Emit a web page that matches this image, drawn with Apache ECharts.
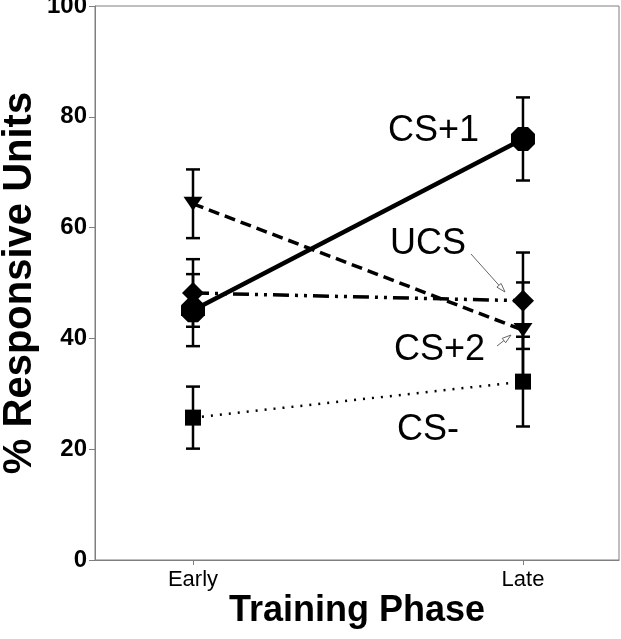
<!DOCTYPE html>
<html><head><meta charset="utf-8">
<script src="https://cdn.jsdelivr.net/npm/echarts@6/dist/echarts.min.js"></script>
<style>html,body{margin:0;padding:0;background:#fff}#c{width:621px;height:639px}</style>
</head><body><div id="c"></div>
<script>
// ---- data ----
const phases = ['Early', 'Late'];
const phaseX = [1, 2];
const yTicks = [0, 20, 40, 60, 80, 100];
const cs1 = [45.1, 76.0];
const cs1Err = [6.5, 7.5];
const ucs = [48.2, 46.8];
const ucsErr = [6.1, 8.7];
const cs2 = [64.3, 41.5];
const cs2Err = [6.2, 8.6];
const csMinus = [25.7, 32.2];
const csMinusErr = [5.6, 8.1];
const seriesNames = ['CS+1', 'UCS', 'CS+2', 'CS-'];

const FONT = '"Liberation Sans", Arial, Helvetica, sans-serif';
const chart = echarts.init(document.getElementById('c'), null, {renderer: 'canvas'});

function pts(vals) { return phaseX.map((x, i) => [x, vals[i]]); }
function errData(vals, errs) { return phaseX.map((x, i) => [x, vals[i] - errs[i], vals[i] + errs[i]]); }

function errSeries(vals, errs) {
  return {
    type: 'custom', silent: true, z: 3,
    data: errData(vals, errs),
    encode: {x: 0, y: [1, 2]},
    renderItem: function (params, api) {
      const lo = api.coord([api.value(0), api.value(1)]);
      const hi = api.coord([api.value(0), api.value(2)]);
      const hw = 7;
      const st = {stroke: '#000', lineWidth: 2.5};
      return {type: 'group', children: [
        {type: 'line', shape: {x1: lo[0], y1: lo[1], x2: hi[0], y2: hi[1]}, style: st},
        {type: 'line', shape: {x1: lo[0] - hw, y1: lo[1], x2: lo[0] + hw, y2: lo[1]}, style: st},
        {type: 'line', shape: {x1: hi[0] - hw, y1: hi[1], x2: hi[0] + hw, y2: hi[1]}, style: st}
      ]};
    }
  };
}

function lineSeries(name, vals, lineType, width, symbol, size) {
  return {
    name: name, type: 'line', z: 4, data: pts(vals),
    symbol: symbol, symbolSize: size, showSymbol: true,
    itemStyle: {color: '#000', borderWidth: 0},
    lineStyle: {color: '#000', width: width, type: lineType},
    emphasis: {disabled: true}, silent: true
  };
}

function arrow(x1, y1, x2, y2) {
  const dx = x2 - x1, dy = y2 - y1, L = Math.hypot(dx, dy);
  const ux = dx / L, uy = dy / L, px = -uy, py = ux;
  const hl = 9, hw = 2.8;
  const bx = x2 - ux * hl, by = y2 - uy * hl;
  return [
    {type: 'line', shape: {x1: x1, y1: y1, x2: bx, y2: by}, style: {stroke: '#666', lineWidth: 1}},
    {type: 'polygon', shape: {points: [[x2, y2], [bx + px * hw, by + py * hw], [bx - px * hw, by - py * hw]]},
     style: {fill: '#fff', stroke: '#666', lineWidth: 1}}
  ];
}

const option = {
  animation: false,
  backgroundColor: '#fff',
  grid: {left: 95, right: 2, top: 6, bottom: 79, show: true, borderColor: '#7f7f7f', borderWidth: 1,
         containLabel: false, outerBoundsMode: 'none'},
  xAxis: {
    type: 'value', min: 0.703, max: 2.291,
    name: 'Training Phase', nameLocation: 'middle', nameGap: 33, nameMoveOverlap: false,
    nameTextStyle: {fontFamily: FONT, fontSize: 36, fontWeight: 'bold', color: '#000'},
    axisLine: {show: true, onZero: false, lineStyle: {color: '#7f7f7f', width: 1}},
    axisTick: {show: true, customValues: phaseX, length: 5, lineStyle: {color: '#7f7f7f'}},
    axisLabel: {show: true, customValues: phaseX, margin: 9,
      fontFamily: FONT, fontSize: 22, color: '#000',
      formatter: function (v) { const i = phaseX.indexOf(v); return i >= 0 ? phases[i] : ''; }},
    splitLine: {show: false}
  },
  yAxis: {
    type: 'value', min: 0, max: 100, interval: 20,
    name: '% Responsive Units', nameLocation: 'middle', nameGap: 55, nameMoveOverlap: false,
    nameTextStyle: {fontFamily: FONT, fontSize: 40, fontWeight: 'bold', color: '#000'},
    axisLine: {show: true, lineStyle: {color: '#7f7f7f', width: 1}},
    axisTick: {show: true, length: 6, lineStyle: {color: '#7f7f7f'}},
    axisLabel: {show: true, margin: 8, fontFamily: FONT, fontSize: 24, fontWeight: 'bold', color: '#000',
      customValues: yTicks},
    splitLine: {show: false}
  },
  series: [
    errSeries(cs1, cs1Err), errSeries(ucs, ucsErr), errSeries(cs2, cs2Err), errSeries(csMinus, csMinusErr),
    lineSeries(seriesNames[3], csMinus, [2, 7], 2.5, 'rect', 16),
    lineSeries(seriesNames[1], ucs, [16, 6, 3, 6, 3, 6], 3.5, 'diamond', [22, 22]),
    lineSeries(seriesNames[2], cs2, [11, 6], 3.5, 'path://M0,0 L20,0 L10,15 Z', [19, 14]),
    lineSeries(seriesNames[0], cs1, 'solid', 4.5, 'path://M7,0 L17,0 L24,7 L24,17 L17,24 L7,24 L0,17 L0,7 Z', [24, 24])
  ],
  graphic: [
    {type: 'text', left: 388, top: 113, style: {text: seriesNames[0], fontFamily: FONT, fontSize: 36, fill: '#000'}},
    {type: 'text', left: 390, top: 226, style: {text: seriesNames[1], fontFamily: FONT, fontSize: 36, fill: '#000'}},
    {type: 'text', left: 394, top: 332, style: {text: seriesNames[2], fontFamily: FONT, fontSize: 36, fill: '#000'}},
    {type: 'text', left: 397, top: 412, style: {text: seriesNames[3], fontFamily: FONT, fontSize: 36, fill: '#000'}},
    {type: 'group', children: arrow(471, 254, 505, 292)},
    {type: 'group', children: arrow(497, 346, 511, 335)}
  ]
};
chart.setOption(option);
</script>
</body></html>
